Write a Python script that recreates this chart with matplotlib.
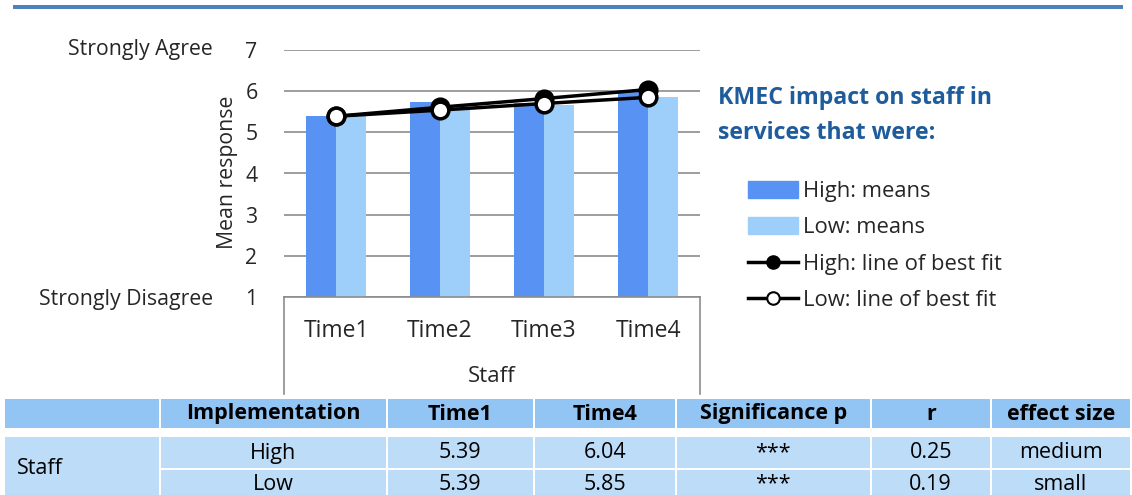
import matplotlib
matplotlib.use('Agg')
import matplotlib.pyplot as plt
from matplotlib.patches import Patch, Rectangle
from matplotlib.lines import Line2D
import numpy as np

plt.rcParams['font.family'] = ['Open Sans', 'DejaVu Sans']

# Chart data
times = ['Time1', 'Time2', 'Time3', 'Time4']
high_means = [5.39, 5.74, 5.72, 6.04]
low_means = [5.39, 5.57, 5.66, 5.85]
high_fit = [5.39, 5.61, 5.82, 6.04]
low_fit = [5.39, 5.54, 5.70, 5.85]
yticks = [1, 2, 3, 4, 5, 6, 7]

# Table data
tab_header = ['', 'Implementation', 'Time1', 'Time4', 'Significance p', 'r', 'effect size']
tab_group = 'Staff'
tab_rows = [['High', '5.39', '6.04', '***', '0.25', 'medium'],
            ['Low', '5.39', '5.85', '***', '0.19', 'small']]

c_high = '#5893f4'
c_low = '#9ecefa'
c_head = '#92c4f4'
c_row = '#bddcf8'
txt = '#262626'
fs = 15.3

W, H = 1132, 495
fig = plt.figure(figsize=(W / 100, H / 100), dpi=100)

# Background axes in pixel coords for table and decorations
bg = fig.add_axes([0, 0, 1, 1])
bg.set_xlim(0, W)
bg.set_ylim(H, 0)
bg.axis('off')

# Blue rule at top
bg.add_patch(Rectangle((13, 5), 1110, 3.5, color='#4f81bd', lw=0))

# Main chart axes
ax = fig.add_axes([284 / W, 1 - 297 / H, 416 / W, 247 / H])
x = np.arange(len(times))
bw = 0.29
ax.bar(x - bw / 2, high_means, bw, color=c_high, zorder=2)
ax.bar(x + bw / 2, low_means, bw, color=c_low, zorder=2)
ax.plot(x, high_fit, '-o', color='black', lw=2.5, ms=12, mfc='black', mec='black', mew=2.5, zorder=4)
ax.plot(x, low_fit, '-o', color='black', lw=2.5, ms=12, mfc='white', mec='black', mew=2.5, zorder=5)
ax.set_xlim(-0.5, 3.5)
ax.set_ylim(1, 7)
ax.set_yticks(yticks)
ax.yaxis.grid(True, color='#8c8c8c', lw=1.2)
ax.set_axisbelow(True)
for s in ['top', 'right', 'left']:
    ax.spines[s].set_visible(False)
ax.spines['bottom'].set_color('#8c8c8c')
ax.spines['bottom'].set_linewidth(1.2)
ax.set_xticks(x)
ax.set_xticklabels(times)
ax.tick_params(axis='x', length=0, pad=16, labelsize=16.5, labelcolor=txt)
ax.tick_params(axis='y', length=0, pad=19, labelsize=fs, labelcolor=txt)
# category axis box sides
for xx in [0, 1]:
    ax.plot([xx, xx], [0, -97 / 247], transform=ax.transAxes, color='#8c8c8c', lw=1.2, clip_on=False)

bg.text(213, 49, 'Strongly Agree', ha='right', va='center', fontsize=fs, color=txt)
bg.text(213, 299, 'Strongly Disagree', ha='right', va='center', fontsize=fs, color=txt)
bg.text(228, 172, 'Mean response', rotation=90, ha='center', va='center', fontsize=fs, color=txt)
bg.text(492, 377, 'Staff', ha='center', va='center', fontsize=16, color=txt)

# Legend
bg.text(718, 98, 'KMEC impact on staff in', ha='left', va='center', fontsize=16.7, fontweight='bold', color='#1f5c9c')
bg.text(718, 133, 'services that were:', ha='left', va='center', fontsize=16.7, fontweight='bold', color='#1f5c9c')
handles = [Patch(color=c_high), Patch(color=c_low),
           Line2D([], [], color='black', lw=2.5, marker='o', ms=9, mfc='black', mec='black', mew=1.5),
           Line2D([], [], color='black', lw=2.5, marker='o', ms=9, mfc='white', mec='black', mew=1.5)]
labels = ['High: means', 'Low: means', 'High: line of best fit', 'Low: line of best fit']
leg = fig.legend(handles, labels, loc='upper left', bbox_to_anchor=(748, 181), bbox_transform=bg.transData,
                 frameon=False, fontsize=15.8, handlelength=2.3, handleheight=0.8, handletextpad=0.22,
                 labelspacing=0.7, borderpad=0, borderaxespad=0)
for t in leg.get_texts():
    t.set_color(txt)

# Table
col_edges = [5, 161, 388, 535, 677, 872, 992, 1132]
gap = 2.5
tfs = 15.5
for i in range(len(tab_header)):
    x0, x1 = col_edges[i], col_edges[i + 1]
    bg.add_patch(Rectangle((x0, 399), x1 - x0 - gap, 29, color=c_head, lw=0))
    bg.text((x0 + x1 - gap) / 2, 414, tab_header[i], ha='center', va='center', fontsize=tfs,
            fontweight='bold', color='black')
# group cell (merged)
bg.add_patch(Rectangle((5, 437), 161 - 5 - gap, 58, color=c_row, lw=0))
bg.text(17, 469, tab_group, ha='left', va='center', fontsize=tfs, color='black')
row_y = [(437, 31), (470, 25)]
for r, row in enumerate(tab_rows):
    y0, h = row_y[r]
    for j, val in enumerate(row):
        x0, x1 = col_edges[j + 1], col_edges[j + 2]
        bg.add_patch(Rectangle((x0, y0), x1 - x0 - gap, h, color=c_row, lw=0))
        bg.text((x0 + x1 - gap) / 2, 453 if r == 0 else 484, val, ha='center', va='center',
                fontsize=tfs, color='black')

fig.savefig('out.png', dpi=100)
